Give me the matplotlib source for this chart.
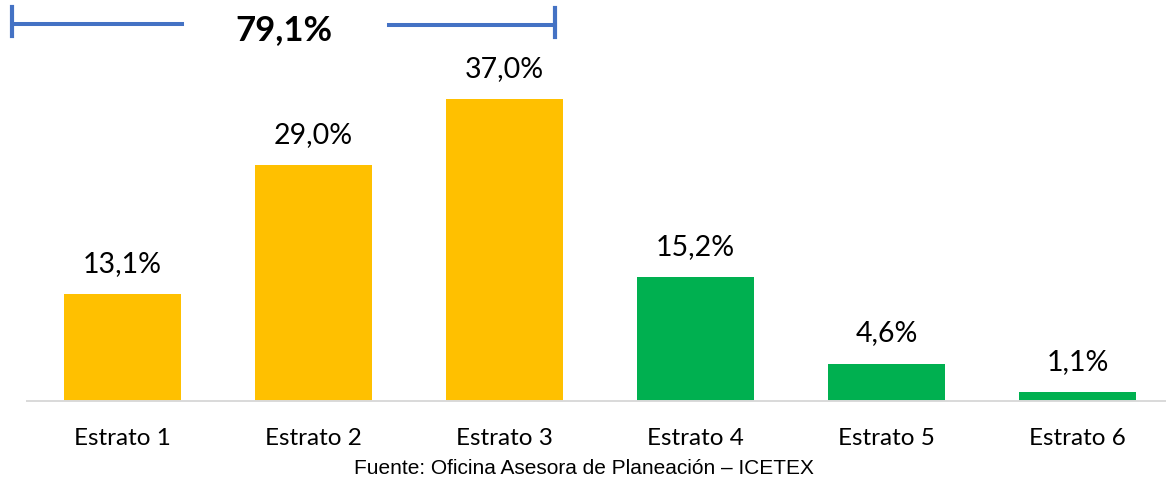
import matplotlib.pyplot as plt
import numpy as np

# Datos
categorias = ['Estrato 1', 'Estrato 2', 'Estrato 3', 'Estrato 4', 'Estrato 5', 'Estrato 6']
valores = [13.1, 29.0, 37.0, 15.2, 4.6, 1.1]
colores = ['#FFC000', '#FFC000', '#FFC000', '#00B050', '#00B050', '#00B050']
total_etiqueta = '79,1%'
fuente = 'Fuente: Oficina Asesora de Planeación – ICETEX'

W, H = 1166, 481
fig = plt.figure(figsize=(W / 100, H / 100), dpi=100)

# ejes: borde izquierdo en 27 px, base en y=401 px
ax = fig.add_axes([27 / W, 79 / H, (W - 27) / W, 341 / H])
x = np.arange(len(categorias))
ax.bar(x, valores, width=0.613, color=colores)
ax.set_xlim(-0.5, -0.5 + (W - 27) / 191)
ax.set_ylim(0, 341 / 8.15)

for xi, v in zip(x, valores):
    ax.annotate(f'{v:.1f}%'.replace('.', ','), (xi, v), xytext=(0, 13),
                textcoords='offset points', ha='center', va='bottom',
                fontsize=20.5, family='Lato', color='#000000')

ax.set_xticks(x)
ax.set_xticklabels(categorias, fontsize=17.5, family='Lato')
ax.tick_params(axis='x', length=0, pad=18.5)
ax.set_yticks([])
for s in ['top', 'right', 'left']:
    ax.spines[s].set_visible(False)
ax.spines['bottom'].set_color('#D9D9D9')
ax.spines['bottom'].set_linewidth(1.4)

# llave superior con el total
def fx(px):
    return px / W

def fy(py):
    return 1 - py / H

azul = '#4472C4'
fig.add_artist(plt.Line2D([fx(14), fx(182)], [fy(25.3), fy(25.3)], color=azul, lw=2.9, transform=fig.transFigure))
fig.add_artist(plt.Line2D([fx(389), fx(555)], [fy(26), fy(26)], color=azul, lw=2.9, transform=fig.transFigure))
fig.add_artist(plt.Line2D([fx(12), fx(12)], [fy(8), fy(37)], color=azul, lw=3, transform=fig.transFigure))
fig.add_artist(plt.Line2D([fx(555), fx(555)], [fy(9), fy(38)], color=azul, lw=3, transform=fig.transFigure))
fig.text(fx(284), fy(30), total_etiqueta, ha='center', va='center',
         fontsize=25, fontweight='bold', family='Lato')

fig.text(fx(584), fy(468.5), fuente, ha='center', va='center',
         fontsize=15, family='Liberation Sans')

fig.savefig('out.png', dpi=100)
